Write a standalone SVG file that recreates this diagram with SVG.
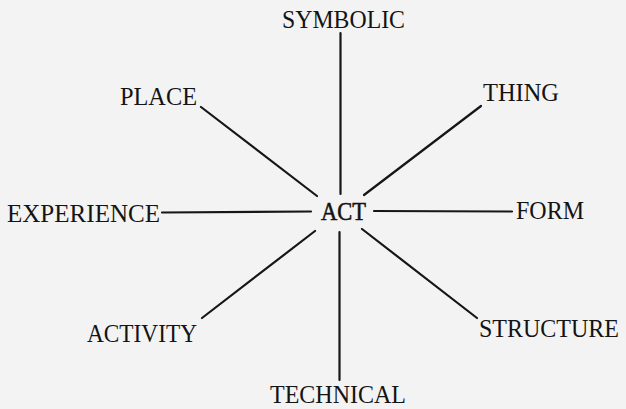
<svg xmlns="http://www.w3.org/2000/svg" width="626" height="409" viewBox="0 0 626 409">
<style>
  .lbl { font-family: "Liberation Serif", "Times New Roman", serif; font-size: 26px; fill: #141414; }
  .ctr { stroke: #141414; stroke-width: 0.6; }
  .sm { font-size: 24.5px; }
  .edge { stroke: #161616; stroke-width: 2.2; stroke-linecap: round; fill: none; }
</style>
<rect width="626" height="409" fill="#f3f3f3"/>
<g id="connectors">
  <line class="edge" x1="340.5" y1="33" x2="340.5" y2="194"/>
  <line class="edge" x1="201" y1="107" x2="317" y2="196"/>
  <line class="edge" x1="481" y1="106" x2="364" y2="195"/>
  <line class="edge" x1="162" y1="212.5" x2="311" y2="211.5"/>
  <line class="edge" x1="374" y1="211" x2="512" y2="211.5"/>
  <line class="edge" x1="202" y1="318" x2="315" y2="231"/>
  <line class="edge" x1="362" y1="229" x2="477" y2="318"/>
  <line class="edge" x1="339.5" y1="232" x2="339.5" y2="380"/>
</g>
<g id="act"><text class="lbl ctr" x="321" y="219.5" textLength="45" lengthAdjust="spacingAndGlyphs">ACT</text></g>
<g id="symbolic"><text class="lbl" x="282" y="28" textLength="123" lengthAdjust="spacingAndGlyphs">SYMBOLIC</text></g>
<g id="place"><text class="lbl" x="120" y="105" textLength="77" lengthAdjust="spacingAndGlyphs">PLACE</text></g>
<g id="thing"><text class="lbl" x="483" y="101" textLength="76" lengthAdjust="spacingAndGlyphs">THING</text></g>
<g id="experience"><text class="lbl" x="7" y="222" textLength="153" lengthAdjust="spacingAndGlyphs">EXPERIENCE</text></g>
<g id="form"><text class="lbl" x="516" y="218.5" textLength="68" lengthAdjust="spacingAndGlyphs">FORM</text></g>
<g id="activity"><text class="lbl" x="87" y="342" textLength="110" lengthAdjust="spacingAndGlyphs">ACTIVITY</text></g>
<g id="structure"><text class="lbl sm" x="479" y="337" textLength="140" lengthAdjust="spacingAndGlyphs">STRUCTURE</text></g>
<g id="technical"><text class="lbl" x="270" y="403" textLength="136" lengthAdjust="spacingAndGlyphs">TECHNICAL</text></g>
</svg>
